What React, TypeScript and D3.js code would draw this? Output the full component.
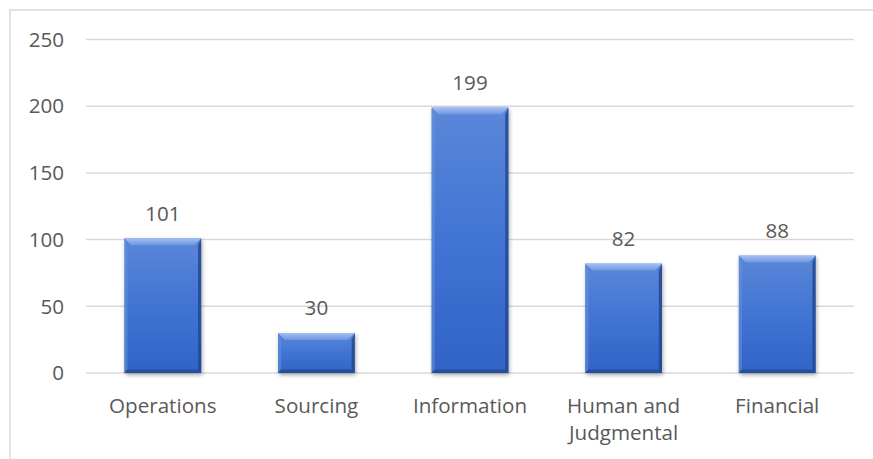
import React from "react";
import * as d3 from "d3";

const categories: string[][] = [
  ["Operations"],
  ["Sourcing"],
  ["Information"],
  ["Human and", "Judgmental"],
  ["Financial"],
];
const values: number[] = [101, 30, 199, 82, 88];
const yTicks: number[] = [0, 50, 100, 150, 200, 250];

const W = 873;
const H = 459;
const FONT = "'Open Sans', 'Noto Sans', sans-serif";
const TEXT = "#595959";
const GRID = "#d9d9d9";
const FS = 20.6;

export default function App() {
  const keys = categories.map((c) => c.join(" "));
  const x = d3.scaleBand<string>().domain(keys).range([86, 854]).paddingInner(0.5).paddingOuter(0.25);
  const y = d3.scaleLinear().domain([0, 250]).range([373, 39.5]);
  const bw = x.bandwidth();
  const bev = 7;

  return (
    <svg width={W} height={H} style={{ position: "absolute", left: 0, top: 0, background: "#fff" }}>
      <defs>
        <linearGradient id="barFill" x1="0" y1="0" x2="0" y2="1">
          <stop offset="0" stopColor="#5b87d8" />
          <stop offset="0.5" stopColor="#4174d4" />
          <stop offset="1" stopColor="#3063c6" />
        </linearGradient>
        <linearGradient id="topBev" x1="0" y1="0" x2="0" y2="1">
          <stop offset="0" stopColor="#a6c0f2" />
          <stop offset="1" stopColor="#6d95e0" />
        </linearGradient>
        <filter id="shadow" x="-20%" y="-20%" width="140%" height="140%">
          <feGaussianBlur in="SourceAlpha" stdDeviation="2.2" />
          <feOffset dx="1" dy="2" result="b" />
          <feComponentTransfer>
            <feFuncA type="linear" slope="0.35" />
          </feComponentTransfer>
          <feMerge>
            <feMergeNode />
            <feMergeNode in="SourceGraphic" />
          </feMerge>
        </filter>
      </defs>
      <rect x={10} y={10} width={W + 20} height={H + 20} fill="none" stroke={GRID} strokeWidth={1.5} />
      {yTicks.map((t) => (
        <g key={t}>
          <line x1={86} x2={854} y1={y(t)} y2={y(t)} stroke={GRID} strokeWidth={1.5} />
          <text x={64} y={y(t)} dy="0.35em" textAnchor="end" fontFamily={FONT} fontSize={FS} fill={TEXT}>
            {t}
          </text>
        </g>
      ))}
      {values.map((v, i) => {
        const x0 = x(keys[i])!;
        const x1 = x0 + bw;
        const y0 = y(v);
        const y1 = y(0);
        return (
          <g key={keys[i]}>
            <rect x={x0} y={y0} width={bw} height={y1 - y0} fill="url(#barFill)" filter="url(#shadow)" />
            <polygon
              points={`${x0},${y0} ${x1},${y0} ${x1 - bev},${y0 + bev} ${x0 + bev},${y0 + bev}`}
              fill="url(#topBev)"
            />
            <polygon
              points={`${x0},${y0} ${x0 + bev * 0.45},${y0 + bev} ${x0 + bev * 0.45},${y1 - bev * 0.5} ${x0},${y1}`}
              fill="#6a91dc"
              opacity={0.55}
            />
            <polygon
              points={`${x1},${y0} ${x1 - bev * 0.45},${y0 + bev} ${x1 - bev * 0.45},${y1 - bev * 0.5} ${x1},${y1}`}
              fill="#23488e"
              opacity={0.85}
            />
            <polygon
              points={`${x0},${y1} ${x1},${y1} ${x1 - bev * 0.45},${y1 - bev * 0.5} ${x0 + bev * 0.45},${y1 - bev * 0.5}`}
              fill="#244c98"
              opacity={0.9}
            />
            <text
              x={x0 + bw / 2}
              y={y0 - 17.5}
              textAnchor="middle"
              fontFamily={FONT}
              fontSize={FS}
              fill={TEXT}
            >
              {v}
            </text>
            {categories[i].map((line, j) => (
              <text
                key={j}
                x={x0 + bw / 2}
                y={412.5 + j * 27}
                textAnchor="middle"
                fontFamily={FONT}
                fontSize={FS}
                fill={TEXT}
              >
                {line}
              </text>
            ))}
          </g>
        );
      })}
    </svg>
  );
}
